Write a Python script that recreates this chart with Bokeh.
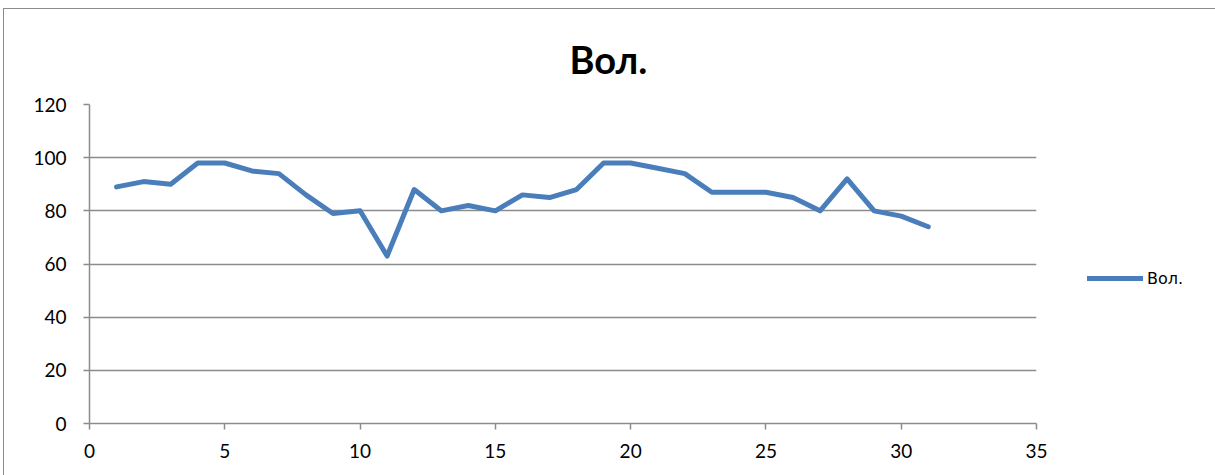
from bokeh.plotting import figure
from bokeh.models import ColumnDataSource, Legend, LegendItem, FixedTicker, Range1d
from bokeh.embed import file_html
from bokeh.resources import INLINE

days = list(range(1, 32))
vol = [89, 91, 90, 98, 98, 95, 94, 86, 79, 80, 63, 88, 80, 82, 80, 86, 85, 88,
       98, 98, 96, 94, 87, 87, 87, 85, 80, 92, 80, 78, 74]
title_text = "Вол."
series_name = "Вол."

src = ColumnDataSource(dict(x=days, y=vol))

p = figure(frame_width=947, frame_height=319, output_backend="svg", toolbar_location=None,
           x_range=Range1d(0, 35), y_range=Range1d(0, 120),
           min_border_left=85, min_border_right=177, min_border_top=95, min_border_bottom=53)
p.styles = {"border-left": "1px solid #8c8c8c", "border-top": "1px solid #8c8c8c",
            "border-right": "1px solid #8c8c8c", "margin-left": "3px", "margin-top": "8px"}

p.title.text = title_text
p.title.align = "left"
p.title.offset = 480
p.title.text_font = "Lato"
p.title.text_font_size = "38px"
p.title.text_font_style = "bold"
p.title.text_color = "black"
p.title.standoff = 46

r = p.line("x", "y", source=src, line_color="#4a7ebb", line_width=5, line_join="round", line_cap="round")

p.outline_line_color = None
p.background_fill_color = "white"
p.border_fill_color = "white"

p.xaxis.ticker = FixedTicker(ticks=[0, 5, 10, 15, 20, 25, 30, 35])
p.yaxis.ticker = FixedTicker(ticks=[0, 20, 40, 60, 80, 100, 120])
for ax in (p.xaxis, p.yaxis):
    ax.axis_line_color = "#8c8c8c"
    ax.axis_line_width = 1.5
    ax.major_tick_line_color = "#8c8c8c"
    ax.major_tick_line_width = 1.5
    ax.major_tick_out = 6
    ax.major_tick_in = 0
    ax.minor_tick_line_color = None
    ax.major_label_text_font = "Lato"
    ax.major_label_text_font_size = "19px"
    ax.major_label_text_color = "black"
p.xaxis.major_label_standoff = 14
p.yaxis.major_label_standoff = 17

p.xgrid.grid_line_color = None
p.ygrid.grid_line_color = "#8c8c8c"
p.ygrid.grid_line_width = 1.5

legend = Legend(items=[LegendItem(label=series_name, renderers=[r])],
                location=(51, 135), border_line_color=None, background_fill_alpha=0,
                glyph_width=56, glyph_height=20, label_text_font="DejaVu Sans",
                label_text_font_size="16px", label_text_color="black",
                label_standoff=4, padding=0, margin=0)
p.add_layout(legend, "right")

open("out.html", "w").write(file_html(p, INLINE))
